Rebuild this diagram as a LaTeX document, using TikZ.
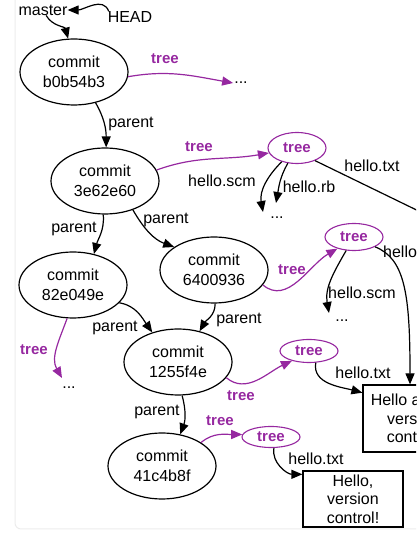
\documentclass[tikz,border=0pt]{standalone}
\usepackage{fontspec}
\setmainfont{Liberation Sans}
\usetikzlibrary{arrows.meta,shapes.geometric}
\definecolor{treepurple}{RGB}{150,40,160}
\begin{document}
\begin{tikzpicture}[x=1pt,y=1pt,
  every node/.style={font=\fontsize{16}{20}\selectfont},
  commitnode/.style={draw, line width=1.2pt, ellipse, minimum width=108pt, minimum height=66pt, inner sep=0pt, align=center},
  treenode/.style={draw=treepurple, line width=1.1pt, ellipse, minimum width=58pt, inner sep=0pt, text=treepurple, font=\fontsize{15}{18}\selectfont\bfseries},
  blobnode/.style={draw, line width=1.2pt, rectangle, minimum width=100pt, inner sep=0pt, align=center, font=\fontsize{16}{18.5}\selectfont},
  arr/.style={line width=1.2pt, -{Triangle[length=11pt,width=9pt]}},
  parr/.style={arr, draw=treepurple},
  lbl/.style={inner sep=0pt},
  tlbl/.style={inner sep=0pt, text=treepurple, font=\fontsize{15}{18}\selectfont\bfseries},
  dotsnode/.style={inner sep=1pt}
]
\clip (0,0) rectangle (416,536);
\draw[gray!15, line width=1pt, rounded corners=6pt] (15,540) -- (15,7) -- (420,7);

% refs
\node[lbl] (master) at (43,526) {master};
\node[lbl] (HEAD) at (130,519) {HEAD};

% commits
\node[commitnode] (b0)  at (74,464)  {commit\\b0b54b3};
\node[commitnode] (c3e) at (105,355) {commit\\3e62e60};
\node[commitnode] (c82) at (73,251)  {commit\\82e049e};
\node[commitnode] (c64) at (214,266) {commit\\6400936};
\node[commitnode] (c12) at (178,174) {commit\\1255f4e};
\node[commitnode] (c41) at (162,70)  {commit\\41c4b8f};

% trees
\node[treenode, minimum height=31pt] (t1) at (297,388) {tree};
\node[treenode, minimum height=27pt] (t2) at (354,299) {tree};
\node[treenode, minimum height=23pt] (t3) at (309,185) {tree};
\node[treenode, minimum height=21pt] (t4) at (271,99)  {tree};

% blobs
\node[blobnode, minimum height=67pt] (box1) at (413,117.5) {Hello again,\\version\\control!};
\node[blobnode, minimum height=56pt] (box2) at (353,37) {Hello,\\version\\control!};

% dots
\node[dotsnode] (dots1) at (241,453) {...};
\node[dotsnode] (dots2) at (277,318) {...};
\node[dotsnode] (dots3) at (342,215) {...};
\node[dotsnode] (dots4) at (69,148) {...};
\coordinate (d2a) at (263,324);
\coordinate (d2b) at (276,333);
\coordinate (d3) at (329,223);
\coordinate (d4) at (62,158);
\coordinate (offR) at (470,300);

% labels
\node[tlbl] at (165,477) {tree};
\node[lbl] at (131,412) {parent};
\node[tlbl] at (199,389) {tree};
\node[lbl] at (222,355) {hello.scm};
\node[lbl] at (309,349) {hello.rb};
\node[lbl] at (372,370) {hello.txt};
\node[lbl] at (74,307) {parent};
\node[lbl] at (166,316) {parent};
\node[tlbl] at (292,266) {tree};
\node[lbl] at (362,243) {hello.scm};
\node[lbl, anchor=west] at (383,284) {hello.txt};
\node[lbl] at (239,216) {parent};
\node[lbl] at (115,208) {parent};
\node[tlbl] at (34,186) {tree};
\node[tlbl] at (241,140) {tree};
\node[lbl] at (363,163) {hello.txt};
\node[lbl] at (157,124) {parent};
\node[tlbl] at (220,115) {tree};
\node[lbl] at (316,77) {hello.txt};

% black connectors
\draw[arr] (HEAD.165) to[out=110,in=0] (master.east);
\draw[arr] (master.-60) to[out=-60,in=105] (b0.100);
\draw[arr] (b0.-55) to[out=-60,in=90] (c3e.88);
\draw[arr] (t1.-138) to[out=-135,in=100] (d2a);
\draw[arr] (t1.-121) to[out=-120,in=80] (d2b);
\draw[line width=1.2pt] (t1.-35) -- (offR);
\draw[arr] (c3e.-93) to[out=-85,in=75] (c82.56);
\draw[arr] (c3e.-46) to[out=-60,in=160] (c64.150);
\draw[arr] (t2.-120) to[out=-120,in=100] (d3);
\draw[arr] (t2.-25) .. controls +(30,-12) and +(0,90) .. (box1.95);
\draw[arr] (c64.-88) to[out=-90,in=60] (c12.55);
\draw[arr] (c82.-21) to[out=-10,in=125] (c12.131);
\draw[arr] (t3.-60) to[out=-100,in=165] (box1.153);
\draw[arr] (c12.-83) to[out=-75,in=70] (c41.60);
\draw[arr] (t4.-75) to[out=-100,in=180] (box2.154);

% purple connectors
\draw[parr] (b0.-5) to[out=10,in=170] (dots1.west);
\draw[parr] (c3e.12) to[out=20,in=190] (t1.190);
\draw[parr] (c64.-17) to[out=-40,in=210] (t2.215);
\draw[parr] (c82.-100) to[out=-110,in=120] (d4);
\draw[parr] (c12.-18) to[out=-40,in=205] (t3.210);
\draw[parr] (c41.31) to[out=40,in=180] (t4.175);
\end{tikzpicture}
\end{document}
